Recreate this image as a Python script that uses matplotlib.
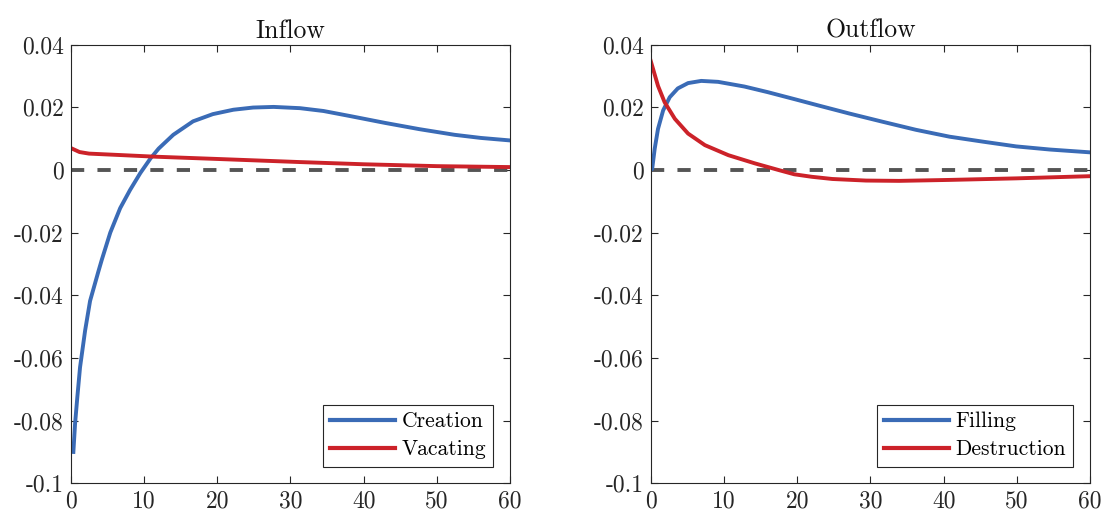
# impulse responses of inflow and outflow components, two panels
import numpy as np
import matplotlib.pyplot as plt

plt.rcParams['font.family'] = 'serif'
plt.rcParams['font.serif'] = ['cmr10', 'DejaVu Serif']
plt.rcParams['mathtext.fontset'] = 'cm'
plt.rcParams['axes.unicode_minus'] = False

# values
t_creation = [0.36, 0.59, 0.9, 1.27, 1.96, 2.64, 3.8, 4.25, 5.4, 6.75, 8.1, 9.5, 10.9, 12.0, 14.0,
              16.7, 19.4, 22.2, 24.9, 27.7, 31.3, 34.5, 38.1, 42.9, 47.6, 52.4, 56.0, 60.0]
creation = [-0.090, -0.081, -0.0725, -0.063, -0.0513, -0.0418, -0.0322, -0.0286, -0.0200, -0.0122,
            -0.0064, -0.0010, 0.0037, 0.0068, 0.0112, 0.0155, 0.0178, 0.0192, 0.0199, 0.0201,
            0.0197, 0.0188, 0.0172, 0.0150, 0.0130, 0.0112, 0.0102, 0.0094]

t_vacating = [0.27, 1.2, 2.5, 6.2, 11.7, 19.9, 31.3, 40.0, 50.0, 60.0]
vacating = [0.0067, 0.0057, 0.0052, 0.0048, 0.0042, 0.0035, 0.0025, 0.0018, 0.0012, 0.0009]

t_filling = [0.0, 0.2, 0.55, 1.0, 1.7, 2.6, 3.7, 5.1, 6.9, 9.2, 12.8, 16.0, 19.6, 23.0, 27.1, 31.6,
             36.2, 40.8, 45.4, 49.9, 54.5, 60.0]
filling = [0.0, 0.0003, 0.0068, 0.0131, 0.019, 0.0232, 0.026, 0.0277, 0.0284, 0.0281, 0.0266,
           0.0248, 0.0226, 0.0205, 0.0180, 0.0154, 0.0128, 0.0106, 0.0090, 0.0075, 0.0065, 0.0056]

t_destruction = [0.0, 1.0, 1.9, 3.3, 5.1, 7.4, 10.6, 14.2, 17.4, 19.6, 22.0, 24.8, 29.4, 33.9,
                 40.7, 49.9, 60.0]
destruction = [0.0348, 0.0268, 0.0216, 0.0163, 0.0116, 0.0079, 0.0047, 0.0021, 0.0, -0.0014,
               -0.0022, -0.0029, -0.0034, -0.0035, -0.0032, -0.0027, -0.0020]

xticks = [0, 10, 20, 30, 40, 50, 60]
yticks = [0.04, 0.02, 0, -0.02, -0.04, -0.06, -0.08, -0.1]
ytick_labels = ['0.04', '0.02', '0', '-0.02', '-0.04', '-0.06', '-0.08', '-0.1']

panels = [
    ('Inflow', (t_creation, creation, 'Creation'), (t_vacating, vacating, 'Vacating')),
    ('Outflow', (t_filling, filling, 'Filling'), (t_destruction, destruction, 'Destruction')),
]

blue = '#3a6bb6'
red = '#cc2229'
fig = plt.figure(figsize=(11.07, 5.18), dpi=100)
lefts = [0.0639, 0.5878]

for left, (title, s1, s2) in zip(lefts, panels):
    ax = fig.add_axes([left, 0.067, 0.397, 0.847])
    ax.plot([0, 60], [0, 0], color='#555555', linewidth=2.8, dashes=(3.4, 3.4))
    ax.plot(s1[0], s1[1], color=blue, linewidth=2.8, label=s1[2],
            solid_joinstyle='round')
    ax.plot(s2[0], s2[1], color=red, linewidth=2.8, label=s2[2],
            solid_joinstyle='round')
    ax.set_xlim(0, 60)
    ax.set_ylim(-0.1, 0.04)
    ax.set_xticks(xticks)
    ax.set_xticklabels([str(x) for x in xticks])
    ax.set_yticks(yticks)
    ax.set_yticklabels(ytick_labels)
    ax.tick_params(direction='in', top=True, right=True, length=5, width=0.8,
                   labelsize=17, color='#262626', labelcolor='#262626', pad=5)
    for sp in ax.spines.values():
        sp.set_color('#262626')
        sp.set_linewidth(0.8)
    ax.set_title(title, fontsize=18.5, color='#111111', pad=5)
    leg = ax.legend(loc='lower right', fontsize=15.5, handlelength=3.0,
                    borderaxespad=0.78, framealpha=1, fancybox=False,
                    edgecolor='#262626', labelspacing=0.38, handletextpad=0.3,
                    borderpad=0.34)
    leg.get_frame().set_linewidth(0.8)
    for line in leg.get_lines():
        line.set_linewidth(3)

fig.savefig('out.png', dpi=100)
